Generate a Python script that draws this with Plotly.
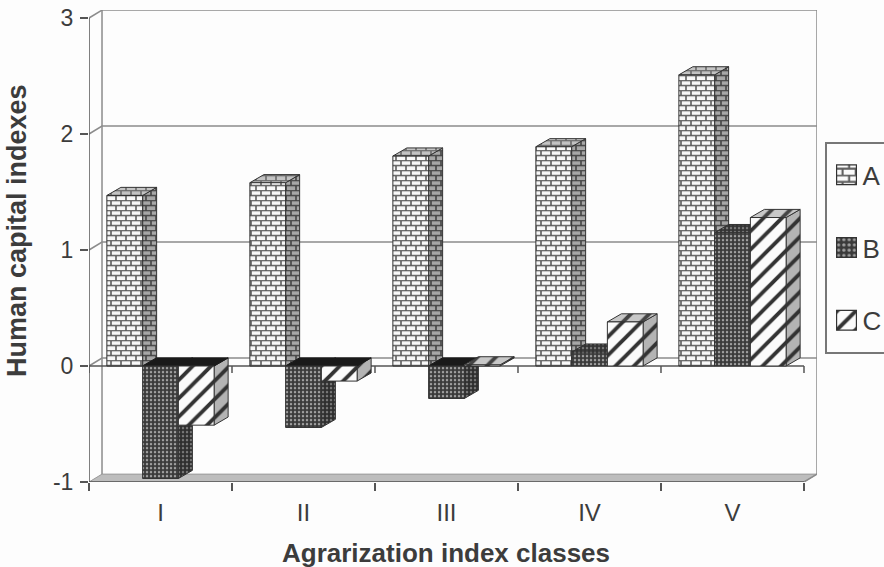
import plotly.graph_objects as go

categories = ["I", "II", "III", "IV", "V"]
series_a = [1.47, 1.58, 1.81, 1.89, 2.51]
series_b = [-0.97, -0.53, -0.28, 0.12, 1.15]
series_c = [-0.51, -0.13, 0.01, 0.38, 1.28]
y_ticks = [-1, 0, 1, 2, 3]
y_tick_labels = ["-1", "0", "1", "2", "3"]

W, H = 884, 567
WALL_DX, WALL_DY = 0.091, 0.068
BAR_DX, BAR_DY = 0.098, 0.07
LEFT, RIGHT, BOTTOM = 89, 817, 482
TOP = 18 - WALL_DY * 116
BAR_W = 0.25
XR = [-0.5, 4.5 + WALL_DX]
YR = [-1, 3 + WALL_DY]
LINE = "#555555"
GRID = "#8c8c8c"
TXT = "#3c3c3c"
FONT = "Liberation Sans, Arial, sans-serif"


def pat(shape, size, bg, fg, solidity):
    return dict(shape=shape, size=size, bgcolor=bg, fgcolor=fg, fgopacity=1, solidity=solidity)


styles = [
    dict(name="A", vals=series_a,
         front=pat("+", 10, "#fafafa", "#5e5e5e", 0.3),
         side=pat("+", 10, "#a8a8a8", "#444444", 0.3),
         top=pat("+", 10, "#c4c4c4", "#6a6a6a", 0.3)),
    dict(name="B", vals=series_b,
         front=pat(".", 4, "#3a3a3a", "#a0a0a0", 0.3),
         side=pat(".", 4, "#2e2e2e", "#787878", 0.3),
         top=pat(".", 4, "#333333", "#787878", 0.3)),
    dict(name="C", vals=series_c,
         front=pat("/", 13, "#fbfbfb", "#333333", 0.3),
         side=pat("/", 13, "#b4b4b4", "#333333", 0.3),
         top=pat("/", 13, "#c8c8c8", "#444444", 0.3)),
]

fig = go.Figure()


def poly(xs, ys, pattern=None, fill=None, line=LINE, width=1):
    kw = dict(fillpattern=pattern) if pattern else dict(fillcolor=fill)
    fig.add_trace(go.Scatter(
        x=xs + xs[:1], y=ys + ys[:1], mode="lines", fill="toself",
        line=dict(color=line, width=width), showlegend=False, hoverinfo="skip",
        xaxis="x", yaxis="y", **kw))


def seg(xs, ys, color=GRID, width=1.5):
    fig.add_trace(go.Scatter(
        x=xs, y=ys, mode="lines", line=dict(color=color, width=width),
        showlegend=False, hoverinfo="skip", xaxis="x", yaxis="y"))


x0, x1 = -0.5, 4.5
# floor
poly([x0, x0 + WALL_DX, x1 + WALL_DX, x1], [-1, -1 + WALL_DY, -1 + WALL_DY, -1],
     fill="#bdbdbd", line="#9a9a9a")
# back wall
seg([x0 + WALL_DX, x0 + WALL_DX, x1 + WALL_DX, x1 + WALL_DX],
    [-1 + WALL_DY, 3 + WALL_DY, 3 + WALL_DY, -1 + WALL_DY])
for t in y_ticks[1:-1]:
    seg([x0, x0 + WALL_DX, x1 + WALL_DX], [t, t + WALL_DY, t + WALL_DY])
seg([x0, x0 + WALL_DX], [3, 3 + WALL_DY])
seg([x1, x1 + WALL_DX], [-1, -1 + WALL_DY])
# zero axis with its ticks
seg([x0, x1], [0, 0], color=LINE)
for i in range(len(categories) + 1):
    seg([x0 + i, x0 + i], [0, -0.06], color=LINE)
# front axes lines
seg([x0, x0], [-1, 3], color=LINE)
seg([x0, x1], [-1, -1], color=LINE)

# depth faces, left to right so later faces overlap earlier ones
for i in range(len(categories)):
    for s, st in enumerate(styles):
        v = st["vals"][i]
        left = i - 1.5 * BAR_W + s * BAR_W
        right = left + BAR_W
        poly([right, right + BAR_DX, right + BAR_DX, right],
             [0, BAR_DY, v + BAR_DY, v], pattern=st["side"], line="#333333")
        ty = max(v, 0)
        if v < 0:
            poly([left, left + BAR_DX, right + BAR_DX, right],
                 [ty, ty + BAR_DY, ty + BAR_DY, ty], fill="#1a1a1a", line="#1a1a1a")
        else:
            poly([left, left + BAR_DX, right + BAR_DX, right],
                 [ty, ty + BAR_DY, ty + BAR_DY, ty], pattern=st["top"], line="#333333")

# front faces (overlay axes, always above the depth faces)
for st in styles:
    fig.add_trace(go.Bar(
        x=categories, y=st["vals"], name=st["name"], xaxis="x2", yaxis="y2",
        legendgroup=st["name"],
        marker=dict(pattern=st["front"], line=dict(color="#333333", width=1)),
        hoverinfo="skip"))

dom_x = [LEFT / W, RIGHT / W]
dom_y = [1 - BOTTOM / H, 1 - TOP / H]

fig.update_layout(
    width=W, height=H,
    margin=dict(l=0, r=0, t=0, b=0, autoexpand=False),
    paper_bgcolor="#fdfdfd", plot_bgcolor="rgba(0,0,0,0)",
    font=dict(family=FONT, color=TXT),
    barmode="group", bargap=0.25, bargroupgap=0,
    xaxis=dict(domain=dom_x, range=XR, showgrid=False, zeroline=False, showline=False,
               tickmode="array", tickvals=[x0 + i for i in range(len(categories) + 1)],
               showticklabels=False, ticks="outside", ticklen=8, tickcolor=LINE, tickwidth=1.5),
    yaxis=dict(domain=dom_y, range=YR, showgrid=False, zeroline=False, showline=False,
               tickmode="array", tickvals=y_ticks, ticktext=y_tick_labels, ticks="outside",
               ticklen=8, ticklabelstandoff=2,
               tickcolor=LINE, tickwidth=1.5, tickfont=dict(size=23, color=TXT)),
    xaxis2=dict(domain=dom_x, range=XR, overlaying="x", anchor="y2", type="category",
                categoryorder="array", categoryarray=categories,
                showgrid=False, zeroline=False, showline=False, ticks="outside",
                ticklen=9, tickcolor="rgba(0,0,0,0)", tickfont=dict(size=24, color=TXT)),
    yaxis2=dict(domain=dom_y, range=YR, overlaying="y", anchor="x2", visible=False),
    legend=dict(x=825 / W, y=1 - 142 / H, xanchor="left", yanchor="top",
                bgcolor="#fdfdfd", bordercolor="#777777", borderwidth=1.5,
                title=dict(text="&nbsp;", font=dict(size=6)),
                font=dict(size=26, color=TXT), tracegroupgap=36, traceorder="grouped"),
    showlegend=True,
    annotations=[
        dict(text="<b>Human capital indexes</b>", textangle=-90, showarrow=False,
             xref="paper", yref="paper", x=17 / W, y=1 - 231 / H,
             xanchor="center", yanchor="middle", font=dict(size=27, color=TXT)),
        dict(text="<b>Agrarization index classes</b>", showarrow=False,
             xref="paper", yref="paper", x=446 / W, y=1 - 553 / H,
             xanchor="center", yanchor="middle", font=dict(size=26, color=TXT)),
    ],
)

post = """
document.documentElement.style.margin = '0';
document.body.style.margin = '0';
document.body.style.background = '#fdfdfd';
function tweak() {
  document.querySelectorAll('pattern').forEach(function (p) {
    var path = p.querySelector('path');
    if (!path) return;
    var d = path.getAttribute('d') || '';
    if (/^M[\\d.]+,0L[\\d.]+,[\\d.]+M0,/.test(d)) {
      path.setAttribute('d', 'M0,0.5H10M0,5.5H10M2,0.5V5.5M7,5.5V10.5');
      path.setAttribute('stroke-width', '1.6px');
      path.setAttribute('fill', 'none');
    }
  });
  document.querySelectorAll('.legendpoints path').forEach(function (p) {
    if (p.getAttribute('data-scaled')) return;
    p.setAttribute('data-scaled', '1');
    p.setAttribute('transform', (p.getAttribute('transform') || '') + ' scale(1.65)');
    p.style.strokeWidth = '0.7px';
  });
  document.querySelectorAll('.legend text.legendtext').forEach(function (t) {
    t.setAttribute('x', 36);
  });
  var bg = document.querySelector('.legend rect.bg');
  if (bg) bg.setAttribute('height', 210);
  var cp = document.querySelector('[id^="legend"] rect');
  if (cp) cp.setAttribute('height', 210);
}
tweak();
var n = 0, timer = setInterval(function () { tweak(); if (++n > 20) clearInterval(timer); }, 50);
"""
fig.write_html("out.html", post_script=post, config=dict(displayModeBar=False))
